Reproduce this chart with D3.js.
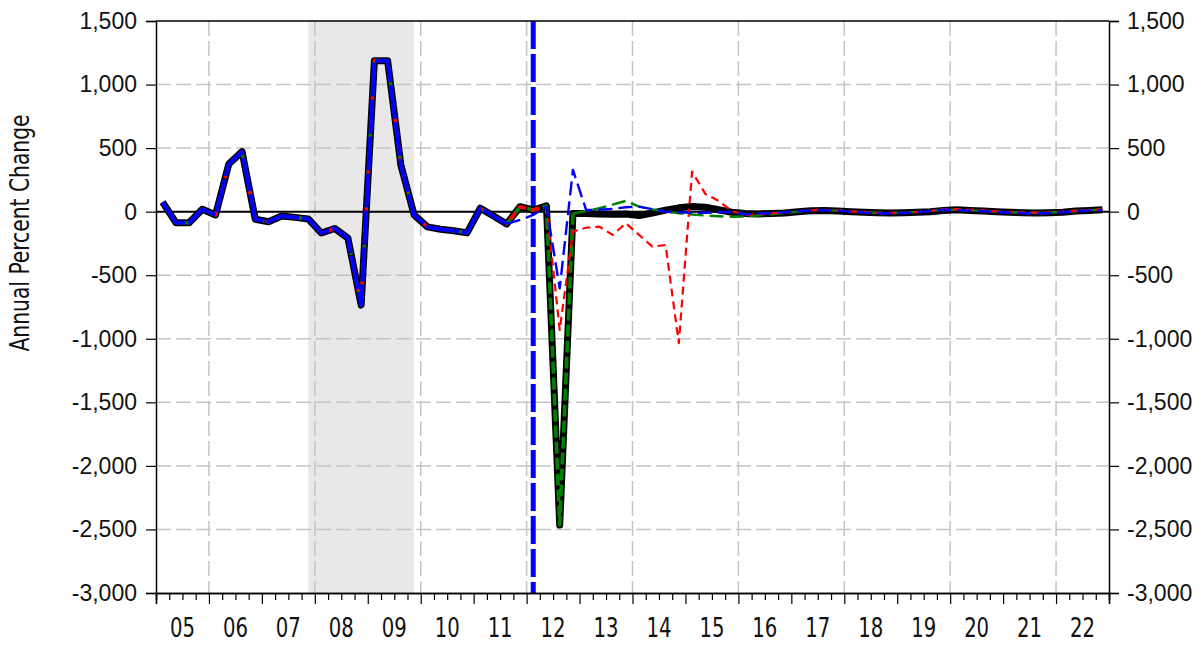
<!DOCTYPE html>
<html><head><meta charset="utf-8">
<script src="https://cdn.jsdelivr.net/npm/d3@7"></script>
<style>body{margin:0;background:#fff} svg{display:block}</style>
</head><body><svg id="c" width="1202" height="645"></svg>
<script>
// ---------------- data ----------------
const firstYear = 2005;
const lastYear = 2023;
const yearLabels = ["05","06","07","08","09","10","11","12","13","14","15","16","17","18","19","20","21","22"];
const yTicks = [1500,1000,500,0,-500,-1000,-1500,-2000,-2500,-3000];
const gridYValues = [1000,500,-500,-1000,-1500,-2000,-2500];
const gridYears = [2006,2008,2010,2012,2014,2016,2018,2020,2022];
const recessionQuarters = [11, 19];      // 2007Q4 .. 2009Q4 (quarter index from 2005Q1)
const forecastQuarter = 28;              // 2012Q1

// quarterly history 2005Q1 .. 2012Q2 (index 0..29)
const history = [75,-87,-87,19,-26,375,472,-60,-79,-34,-45,-57,-168,-132,-208,-735,
  1188,1188,367,-26,-120,-138,-150,-167,27,-35,-97,39,13,45];
// black (actual / baseline) 2012Q3 .. 2022Q4 (index 30..71)
const blackForecast = [-2465,-15,-15,-18,-20,-18,-30,-10,12,30,40,35,15,-5,
  -15,-18,-15,-10, 0,8,10,5, 0,-5,-8,-10, -8,-5,0,10, 15,10,5,0, -5,-8,-10,-8, -5,5,10,15];
// green 2012Q3 .. 2022Q4
const greenForecast = [-2465,-13,5,27,55,85,40,18,0,-12,-22,-30,-36,-40,
  -38,-30,-20,-10, 0,10,12,8, 2,-5,-8,-10, -8,-2,5,15, 15,10,5,0, -5,-8,-10,-6, -2,5,12,16];
// red 2012Q3 .. 2022Q4
const redForecast = [-931,-157,-126,-118,-183,-91,-183,-275,-262,-1035,315,140,85,5,
  -25,-20,-12,-8, 5,12,15,10, 3,-3,-8,-10, -10,-3,5,18, 20,15,10,3, -3,-6,-8,-5, 0,8,14,18];
// blue 2011Q4 .. 2022Q4 (index 27..71)
const blueForecast = [-65,-26,40,-603,328,13,15,22,35,40,20,0,-5,-10,-8,-5,-3,
  -20,-15,-10,-5, 5,10,12,8, 0,-8,-12,-15, -10,-5,5,15, 12,8,3,-2, -8,-12,-15,-10, -5,3,10,12];

// ---------------- build ----------------
const black = history.concat(blackForecast);
const green = history.concat(greenForecast);
const red = history.concat(redForecast);
const blue = history.slice(0, 27).concat(blueForecast);

const L = 156, R = 1109, T = 21, B = 593;
const svg = d3.select("#c");
const x = d3.scaleLinear().domain([firstYear, lastYear]).range([L, R]);
const y = d3.scaleLinear().domain([-3000, 1500]).range([B, T]);
const qx = i => x(firstYear + (i + 0.5) / 4);

const fmt = d => d3.format(",")(d).replace("\u2212", "-");
const numFont = "'Liberation Sans', Arial, sans-serif";
const narrowFont = "'Liberation Sans Narrow', 'Arial Narrow', 'DejaVu Sans Condensed', sans-serif";

// recession shading
svg.append("rect")
  .attr("x", qx(recessionQuarters[0])).attr("y", T)
  .attr("width", qx(recessionQuarters[1]) - qx(recessionQuarters[0]))
  .attr("height", B - T).attr("fill", "#e8e8e8");

// grid
const grid = svg.append("g").attr("stroke", "#c4c4c4").attr("stroke-width", 1.5)
  .attr("stroke-dasharray", "15,5");
grid.selectAll("line.h").data(gridYValues).join("line")
  .attr("x1", L).attr("x2", R).attr("y1", d => y(d)).attr("y2", d => y(d));
grid.selectAll("line.v").data(gridYears).join("line")
  .attr("x1", d => x(d)).attr("x2", d => x(d)).attr("y1", T).attr("y2", B);

// zero line
svg.append("line").attr("x1", L).attr("x2", R).attr("y1", y(0)).attr("y2", y(0))
  .attr("stroke", "#000").attr("stroke-width", 2);

// forecast start marker
svg.append("line").attr("x1", qx(forecastQuarter)).attr("x2", qx(forecastQuarter))
  .attr("y1", T).attr("y2", B).attr("stroke", "#0000ff").attr("stroke-width", 5)
  .attr("stroke-dasharray", "28,5");

// lines
const line = d3.line().x(d => qx(d.i)).y(d => y(d.v));
const pts = (arr, a, b) => arr.map((v, i) => ({i, v})).filter(d => d.i >= a && d.i <= b);
function draw(arr, a, b, color, width, dash, offset) {
  svg.append("path").datum(pts(arr, a, b)).attr("d", line)
    .attr("fill", "none").attr("stroke", color).attr("stroke-width", width)
    .attr("stroke-linejoin", "round").attr("stroke-dasharray", dash || null)
    .attr("stroke-dashoffset", offset || 0);
}
const N = 71;
draw(black, 0, N, "#000", 7);
draw(green, 0, 31, "#008000", 3.6, "12,4", 0);
draw(red, 0, 29, "#ff0000", 3.6, "8,6", 3);
draw(blue, 0, 26, "#0000ff", 4, "34,3", 0);
draw(green, 31, N, "#008000", 2.4, "14,6", 0);
draw(red, 29, N, "#ff0000", 2.2, "8,5", 0);
draw(blue, 26, N, "#0000ff", 2.4, "14,6", 0);

// frame & axes
svg.append("line").attr("x1", L).attr("x2", R).attr("y1", T).attr("y2", T)
  .attr("stroke", "#000").attr("stroke-width", 1.5);

const yl = svg.append("g").attr("transform", `translate(${L},0)`)
  .call(d3.axisLeft(y).tickValues(yTicks).tickSize(10).tickPadding(9).tickFormat(fmt));
const yr = svg.append("g").attr("transform", `translate(${R},0)`)
  .call(d3.axisRight(y).tickValues(yTicks).tickSize(10).tickPadding(8).tickFormat(fmt));
[yl, yr].forEach(g => {
  g.select(".domain").attr("stroke-width", 1.5);
  g.selectAll(".tick line").attr("stroke", "#000").attr("stroke-width", 1.2);
  g.selectAll("text").attr("font-family", numFont).attr("font-size", 23).attr("fill", "#111");
});

const quarterTicks = d3.range(firstYear * 4, lastYear * 4 + 1).map(q => q / 4);
const xMinor = svg.append("g").attr("transform", `translate(0,${B})`)
  .call(d3.axisBottom(x).tickValues(quarterTicks.filter(q => q % 1 !== 0)).tickSize(7).tickFormat(""));
const xMajor = svg.append("g").attr("transform", `translate(0,${B})`)
  .call(d3.axisBottom(x).tickValues(d3.range(firstYear, lastYear + 1)).tickSize(11).tickFormat(""));
[xMinor, xMajor].forEach(g => {
  g.select(".domain").attr("stroke-width", 1.5);
  g.selectAll(".tick line").attr("stroke", "#000").attr("stroke-width", 1.2);
});
svg.append("g").selectAll("text").data(yearLabels).join("text")
  .attr("x", (d, i) => x(firstYear + i + 0.5)).attr("y", 637)
  .attr("text-anchor", "middle").attr("font-family", narrowFont).attr("font-size", 26)
  .attr("textLength", 25).attr("lengthAdjust", "spacingAndGlyphs")
  .attr("fill", "#111").text(d => d);

svg.append("text").attr("transform", "translate(29,233) rotate(-90)")
  .attr("text-anchor", "middle").attr("font-family", narrowFont).attr("font-size", 26)
  .attr("textLength", 237).attr("lengthAdjust", "spacingAndGlyphs")
  .attr("fill", "#111").text("Annual Percent Change");
</script></body></html>
